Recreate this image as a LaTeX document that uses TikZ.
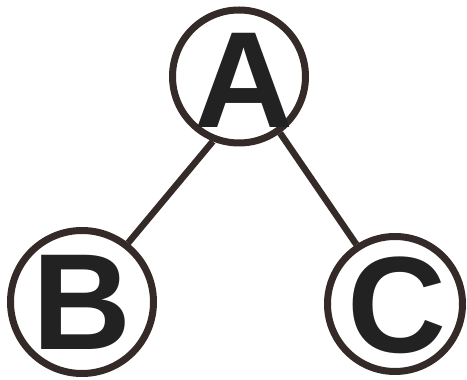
\documentclass[tikz,border=0pt]{standalone}
\usepackage{fontspec}
\setmainfont{Liberation Sans}
\usepackage{xcolor}
\usepackage{tikz}
\usetikzlibrary{positioning}

\definecolor{ringcol}{RGB}{52,42,40}
\definecolor{lettercol}{RGB}{34,34,34}

\begin{document}
\begin{tikzpicture}[
  x=1pt, y=1pt,
  vert/.style={circle,draw=ringcol,line width=7pt,inner sep=0pt},
  letter/.style={inner sep=0pt,text=lettercol,font=\fontsize{137}{137}\selectfont\bfseries},
  edge/.style={draw=ringcol,line width=6.5pt},
]
\useasboundingbox (0,0) rectangle (467,380);
% the three vertices
\node[vert, minimum size=133pt] (a) at (239,303.5) {};
\node[vert, minimum size=143pt] (b) at (82,78) {};
\node[vert, minimum size=135pt] (c) at (395,76) {};
\node[letter] (ta) at ([xshift=5pt,yshift=-4pt]a.center) {A};
\node[letter] (tb) at (b.center) {B};
\node[letter] (tc) at ([xshift=2pt,yshift=-1pt]c.center) {C};
% edges
\draw[edge] (a.248) -- (b.52);
\draw[edge] (a.306) -- (c.123);
\end{tikzpicture}
\end{document}
